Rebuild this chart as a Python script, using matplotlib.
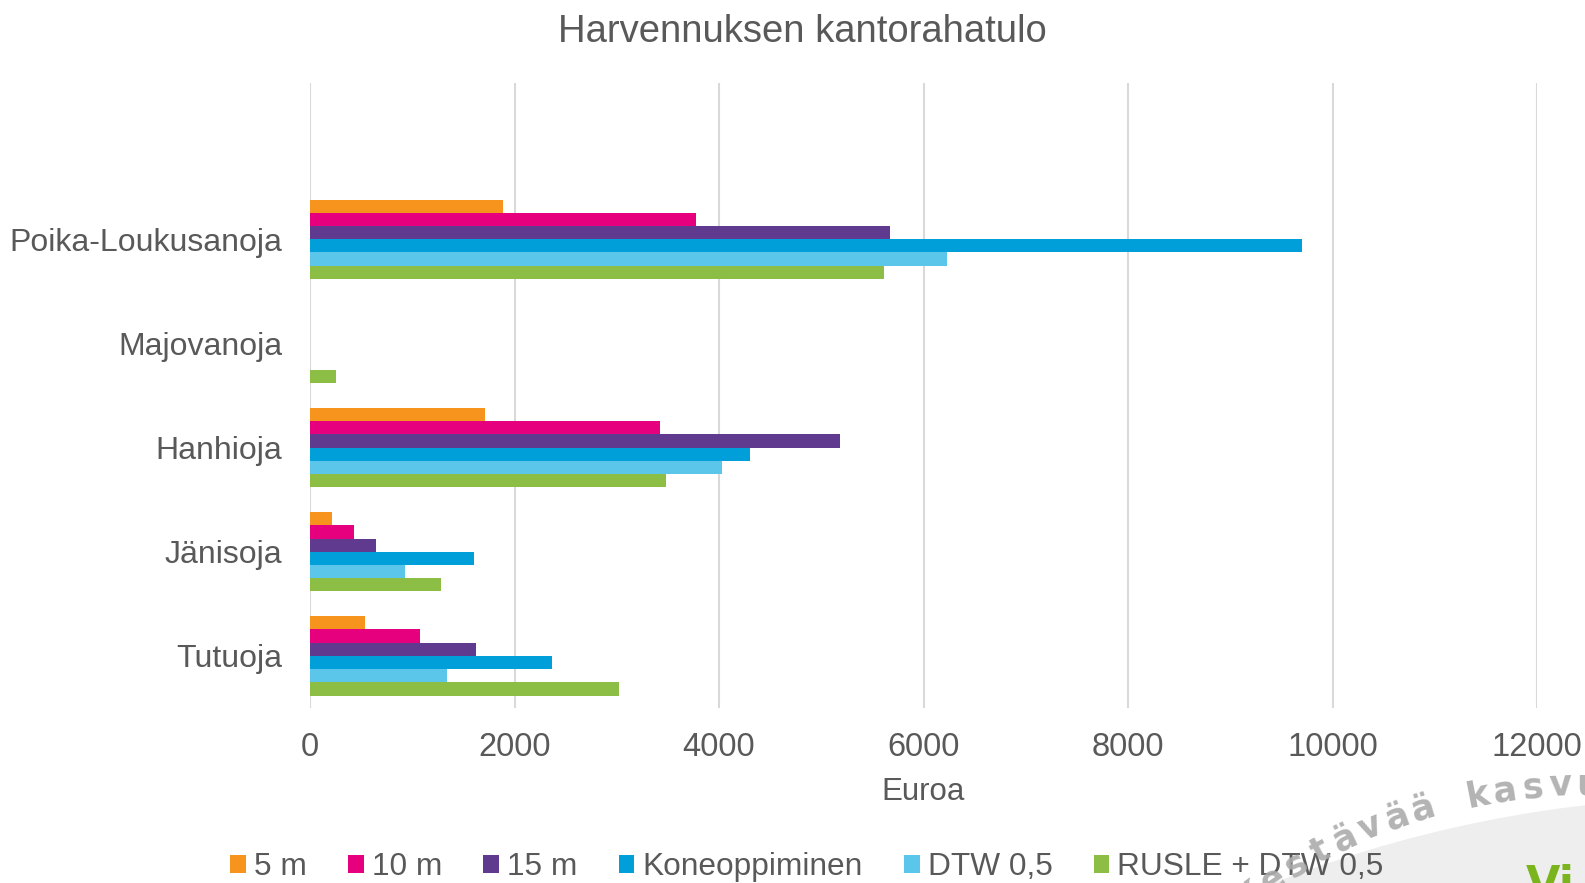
import numpy as np
import matplotlib
matplotlib.use("Agg")
import matplotlib.pyplot as plt
from matplotlib.patches import Circle, Patch

# ---- data ----
categories = ["Poika-Loukusanoja", "Majovanoja", "Hanhioja", "Jänisoja", "Tutuoja"]
series_names = ["5 m", "10 m", "15 m", "Koneoppiminen", "DTW 0,5", "RUSLE + DTW 0,5"]
s_5m = [1885, 0, 1710, 215, 535]
s_10m = [3775, 0, 3420, 435, 1080]
s_15m = [5670, 0, 5185, 650, 1625]
s_kone = [9700, 0, 4300, 1605, 2365]
s_dtw = [6225, 0, 4030, 925, 1335]
s_rusle = [5610, 250, 3485, 1285, 3020]
x_ticks = [0, 2000, 4000, 6000, 8000, 10000, 12000]

series = [s_5m, s_10m, s_15m, s_kone, s_dtw, s_rusle]
colors = ["#F7941D", "#E6007E", "#5F3A8E", "#009FDA", "#5BC5EA", "#8CBD44"]

W, H = 1585, 883
TXT = "#595959"
plt.rcParams['font.family'] = ['Liberation Sans', 'DejaVu Sans']

fig = plt.figure(figsize=(W / 100, H / 100), dpi=100)
ax = fig.add_axes([310 / W, 1 - 708 / H, (1537 - 310) / W, (708 - 83) / H])

n = len(categories)
ypos = np.arange(n)[::-1].astype(float)  # top category highest
bh = 0.127
handles = []
for k, (vals, c, name) in enumerate(zip(series, colors, series_names)):
    off = (2.5 - k) * bh
    ax.barh(ypos + off, vals, height=bh, color=c, linewidth=0, zorder=3)
    handles.append(Patch(facecolor=c, edgecolor='none', label=name))

ax.set_xlim(0, 12000)
ax.set_ylim(-0.5, n + 0.5)
ax.set_xticks(x_ticks)
ax.set_xticklabels([str(t) for t in x_ticks])
ax.set_yticks(ypos)
ax.set_yticklabels(categories)
ax.tick_params(axis='y', length=0, pad=20, labelsize=23, labelcolor=TXT)
ax.tick_params(axis='x', length=0, pad=17, labelsize=23.5, labelcolor=TXT)
ax.grid(axis='x', color='#D9D9D9', linewidth=1.5, zorder=0)
ax.set_axisbelow(True)
for s in ax.spines.values():
    s.set_visible(False)
ax.set_xlabel("Euroa", fontsize=22.5, color=TXT, labelpad=10)

fig.text(802 / W, 1 - 32 / H, "Harvennuksen kantorahatulo", ha='center', va='center',
         fontsize=27.5, color=TXT)

# overlay in pixel coordinates (y down)
ov = fig.add_axes([0, 0, 1, 1], zorder=5)
ov.set_xlim(0, W)
ov.set_ylim(H, 0)
ov.axis('off')
ov.patch.set_alpha(0)

ov.add_patch(Circle((1728, 2040), 1243, facecolor='#EEEEEE', edgecolor='none', zorder=1))

leg = ov.legend(handles=handles, loc='center', bbox_to_anchor=(807, 867),
                bbox_transform=ov.transData, ncol=6, frameon=False,
                fontsize=22.8, handlelength=0.5, handleheight=0.5,
                handletextpad=0.25, columnspacing=1.3, labelcolor=TXT)
leg.set_zorder(3)

wm = "Kestävää kasvua"
cx, cy, R = 1586, 1351, 566
th_e, step = 33.7, 2.83
for i, ch in enumerate(wm):
    th = th_e - (i - 1) * step
    t = np.radians(th)
    x = cx - R * np.sin(t)
    y = cy - R * np.cos(t)
    ov.text(x, y, ch, rotation=th, ha='center', va='center', fontsize=25,
            fontweight='bold', family='DejaVu Sans', color='#ABABAB', alpha=0.9,
            zorder=6, rotation_mode='anchor')

ov.text(1526, 898, "Vi", ha='left', va='baseline', fontsize=32, fontweight='bold',
        family='DejaVu Sans', color='#7AB51D', zorder=6)

fig.savefig("out.png", dpi=100)
